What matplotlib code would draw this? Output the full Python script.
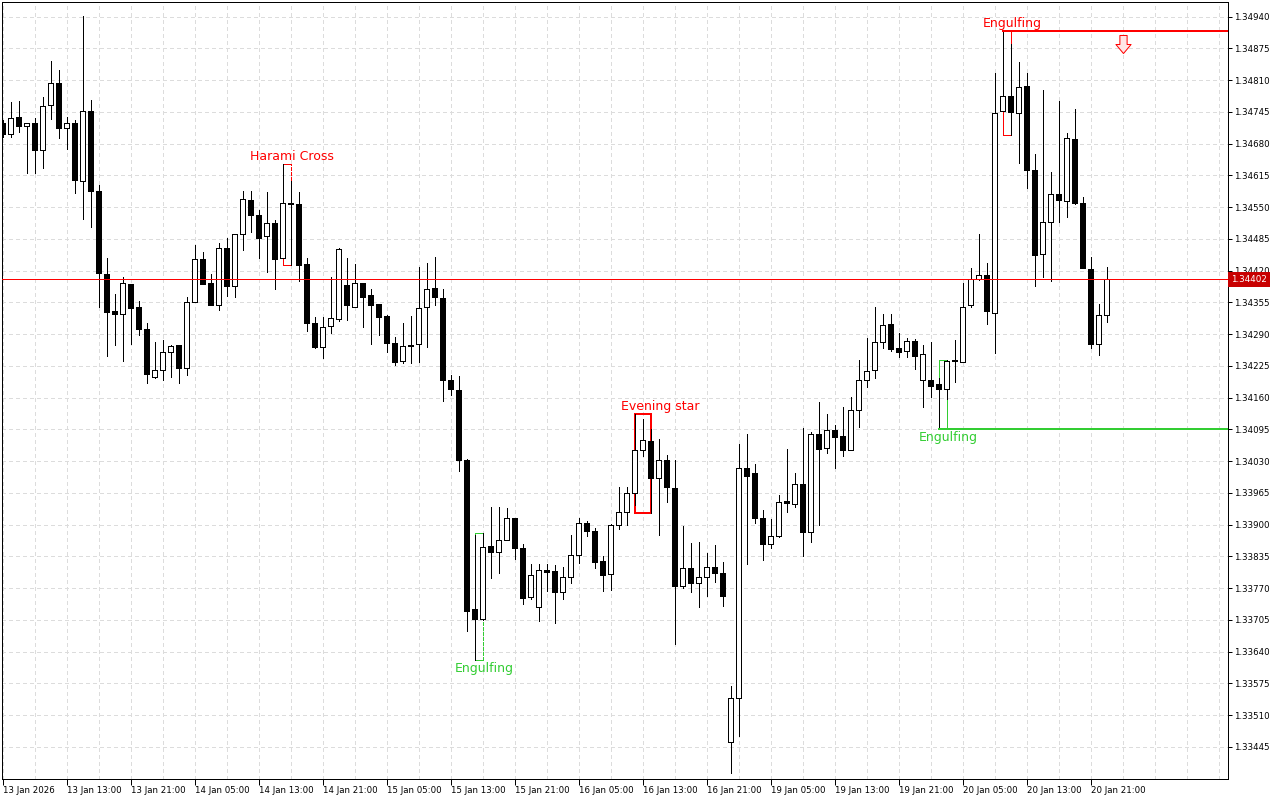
import matplotlib
matplotlib.use('Agg')
import matplotlib.pyplot as plt
from matplotlib.path import Path
from matplotlib.ticker import MultipleLocator

# GBPUSD-like H1 data (price)
opens = [1.34722, 1.34699, 1.34734, 1.34717, 1.34722, 1.34666, 1.34760, 1.34805, 1.34711, 1.34722,
         1.34604, 1.34746, 1.34582, 1.34414, 1.34337, 1.34332, 1.34392, 1.34345, 1.34300, 1.34203,
         1.34216, 1.34253, 1.34267, 1.34221, 1.34355, 1.34444, 1.34394, 1.34350, 1.34466, 1.34389,
         1.34494, 1.34564, 1.34534, 1.34490, 1.34517, 1.34445, 1.34558, 1.34556, 1.34433, 1.34312,
         1.34264, 1.34306, 1.34321, 1.34390, 1.34345, 1.34394, 1.34370, 1.34351, 1.34327, 1.34272,
         1.34234, 1.34267, 1.34269, 1.34345, 1.34384, 1.34364, 1.34197, 1.34175, 1.34032, 1.33727,
         1.33706, 1.33856, 1.33844, 1.33869, 1.33913, 1.33853, 1.33752, 1.33731, 1.33806, 1.33804,
         1.33762, 1.33792, 1.33837, 1.33904, 1.33886, 1.33825, 1.33798, 1.33900, 1.33926, 1.33965,
         1.34052, 1.34071, 1.33996, 1.34032, 1.33975, 1.33774, 1.33812, 1.33781, 1.33792, 1.33813,
         1.33800, 1.33454, 1.33544, 1.34015, 1.34005, 1.33913, 1.33861, 1.33877, 1.33948, 1.33943,
         1.33983, 1.33885, 1.34085, 1.34056, 1.34093, 1.34081, 1.34053, 1.34134, 1.34195, 1.34216,
         1.34273, 1.34310, 1.34261, 1.34255, 1.34275, 1.34195, 1.34197, 1.34187, 1.34178, 1.34234,
         1.34233, 1.34349, 1.34402, 1.34410, 1.34334, 1.34747, 1.34778, 1.34742, 1.34797, 1.34627,
         1.34454, 1.34519, 1.34576, 1.34563, 1.34689, 1.34558, 1.34423, 1.34270, 1.34330]
highs = [1.34728, 1.34765, 1.34767, 1.34723, 1.34732, 1.34775, 1.34849, 1.34830, 1.34734, 1.34728,
         1.34941, 1.34769, 1.34595, 1.34445, 1.34373, 1.34406, 1.34393, 1.34357, 1.34312, 1.34274,
         1.34277, 1.34267, 1.34267, 1.34365, 1.34472, 1.34458, 1.34413, 1.34476, 1.34487, 1.34494,
         1.34583, 1.34583, 1.34544, 1.34581, 1.34523, 1.34638, 1.34603, 1.34581, 1.34445, 1.34325,
         1.34325, 1.34407, 1.34467, 1.34445, 1.34433, 1.34395, 1.34382, 1.34351, 1.34330, 1.34284,
         1.34313, 1.34327, 1.34427, 1.34435, 1.34447, 1.34382, 1.34206, 1.34204, 1.34035, 1.33878,
         1.33882, 1.33936, 1.33936, 1.33933, 1.33914, 1.33861, 1.33820, 1.33820, 1.33820, 1.33817,
         1.33813, 1.33878, 1.33913, 1.33908, 1.33893, 1.33835, 1.33902, 1.33977, 1.33976, 1.34126,
         1.34117, 1.34095, 1.34076, 1.34042, 1.34033, 1.33897, 1.33862, 1.33865, 1.33841, 1.33858,
         1.33823, 1.33569, 1.34065, 1.34085, 1.34025, 1.33929, 1.33911, 1.33960, 1.34054, 1.34005,
         1.34097, 1.34090, 1.34151, 1.34126, 1.34103, 1.34140, 1.34162, 1.34237, 1.34283, 1.34345,
         1.34332, 1.34332, 1.34293, 1.34283, 1.34279, 1.34267, 1.34273, 1.34200, 1.34236, 1.34278,
         1.34394, 1.34425, 1.34494, 1.34435, 1.34824, 1.34911, 1.34885, 1.34847, 1.34824, 1.34658,
         1.34790, 1.34621, 1.34767, 1.34701, 1.34751, 1.34571, 1.34447, 1.34351, 1.34428]
lows = [1.34694, 1.34693, 1.34703, 1.34620, 1.34620, 1.34631, 1.34730, 1.34692, 1.34670, 1.34579,
        1.34526, 1.34510, 1.34346, 1.34246, 1.34268, 1.34235, 1.34270, 1.34289, 1.34190, 1.34201,
        1.34196, 1.34203, 1.34190, 1.34207, 1.34355, 1.34392, 1.34350, 1.34340, 1.34368, 1.34366,
        1.34463, 1.34499, 1.34446, 1.34418, 1.34382, 1.34445, 1.34431, 1.34399, 1.34297, 1.34262,
        1.34242, 1.34293, 1.34317, 1.34319, 1.34345, 1.34305, 1.34269, 1.34288, 1.34254, 1.34227,
        1.34230, 1.34230, 1.34232, 1.34263, 1.34349, 1.34153, 1.34166, 1.34010, 1.33682, 1.33622,
        1.33704, 1.33791, 1.33801, 1.33869, 1.33829, 1.33738, 1.33747, 1.33703, 1.33764, 1.33699,
        1.33747, 1.33781, 1.33822, 1.33876, 1.33812, 1.33764, 1.33766, 1.33890, 1.33900, 1.33940,
        1.34040, 1.33923, 1.33878, 1.33946, 1.33655, 1.33770, 1.33761, 1.33731, 1.33754, 1.33783,
        1.33734, 1.33392, 1.33467, 1.33819, 1.33904, 1.33827, 1.33853, 1.33875, 1.33926, 1.33936,
        1.33835, 1.33865, 1.33900, 1.34047, 1.34016, 1.34041, 1.34052, 1.34100, 1.34182, 1.34201,
        1.34261, 1.34255, 1.34244, 1.34244, 1.34219, 1.34140, 1.34162, 1.34096, 1.34157, 1.34192,
        1.34232, 1.34345, 1.34401, 1.34310, 1.34252, 1.34746, 1.34698, 1.34641, 1.34590, 1.34389,
        1.34406, 1.34399, 1.34520, 1.34530, 1.34557, 1.34425, 1.34262, 1.34248, 1.34315]
closes = [1.34699, 1.34732, 1.34717, 1.34722, 1.34667, 1.34758, 1.34805, 1.34711, 1.34722, 1.34606,
          1.34746, 1.34583, 1.34416, 1.34336, 1.34332, 1.34394, 1.34344, 1.34301, 1.34209, 1.34216,
          1.34253, 1.34265, 1.34221, 1.34355, 1.34443, 1.34393, 1.34350, 1.34466, 1.34389, 1.34494,
          1.34566, 1.34533, 1.34487, 1.34517, 1.34443, 1.34558, 1.34556, 1.34432, 1.34313, 1.34264,
          1.34305, 1.34322, 1.34464, 1.34350, 1.34394, 1.34366, 1.34350, 1.34325, 1.34271, 1.34233,
          1.34265, 1.34265, 1.34343, 1.34382, 1.34365, 1.34197, 1.34177, 1.34033, 1.33723, 1.33706,
          1.33854, 1.33844, 1.33869, 1.33913, 1.33852, 1.33750, 1.33796, 1.33806, 1.33803, 1.33762,
          1.33792, 1.33837, 1.33904, 1.33887, 1.33824, 1.33797, 1.33900, 1.33926, 1.33965, 1.34052,
          1.34073, 1.33996, 1.34032, 1.33976, 1.33774, 1.33812, 1.33781, 1.33793, 1.33813, 1.33800,
          1.33754, 1.33544, 1.34015, 1.34000, 1.33913, 1.33861, 1.33876, 1.33946, 1.33945, 1.33983,
          1.33885, 1.34085, 1.34054, 1.34093, 1.34080, 1.34053, 1.34134, 1.34197, 1.34214, 1.34273,
          1.34308, 1.34259, 1.34254, 1.34275, 1.34246, 1.34250, 1.34184, 1.34178, 1.34235, 1.34236,
          1.34345, 1.34402, 1.34410, 1.34338, 1.34742, 1.34778, 1.34744, 1.34795, 1.34627, 1.34452,
          1.34519, 1.34576, 1.34565, 1.34691, 1.34559, 1.34426, 1.34270, 1.34330, 1.34402]

# bar index of each time label
time_ticks = [0, 8, 16, 24, 32, 40, 48, 56, 64, 72, 80, 88, 96, 104, 112, 120, 128, 136]
time_labels = ['13 Jan 2026', '13 Jan 13:00', '13 Jan 21:00', '14 Jan 05:00', '14 Jan 13:00',
               '14 Jan 21:00', '15 Jan 05:00', '15 Jan 13:00', '15 Jan 21:00', '16 Jan 05:00',
               '16 Jan 13:00', '16 Jan 21:00', '19 Jan 05:00', '19 Jan 13:00', '19 Jan 21:00',
               '20 Jan 05:00', '20 Jan 13:00', '20 Jan 21:00']
price_ticks = [1.34940, 1.34875, 1.34810, 1.34745, 1.34680, 1.34615, 1.34550, 1.34485, 1.34420,
               1.34355, 1.34290, 1.34225, 1.34160, 1.34095, 1.34030, 1.33965, 1.33900, 1.33835,
               1.33770, 1.33705, 1.33640, 1.33575, 1.33510, 1.33445]

# candle patterns: name, first bar, last bar, bullish?
pattern_names = ['Harami Cross', 'Engulfing', 'Evening star', 'Engulfing', 'Engulfing']
pattern_first = [35, 59, 79, 117, 125]
pattern_last = [36, 60, 81, 118, 126]
pattern_bull = [False, True, False, True, False]

signal_bar = 140
signal_price = 1.34884

RED = '#ff0000'
GREEN = '#32cd32'
PX = 0.72  # one pixel in points

fig = plt.figure(figsize=(12.8, 8), dpi=100)
ax = fig.add_axes([2 / 1280, 1 - 779 / 800, 1226 / 1280, 777 / 800])
ax.set_xlim(-0.08, 153.17)
ax.set_ylim(1.33379, 1.34970)

# grid
ax.set_axisbelow(True)
ax.xaxis.set_minor_locator(MultipleLocator(4))
ax.grid(which='both', axis='x', color='#dcdcdc', ls=(0, (4, 4)), lw=PX, antialiased=False)
ax.grid(which='major', axis='y', color='#dcdcdc', ls=(0, (4, 4)), lw=PX, antialiased=False)

# candles
n = len(opens)
xs = list(range(n))
ax.vlines(xs, lows, highs, color='black', lw=PX, zorder=2, antialiased=False)
bottoms = [min(o, c) for o, c in zip(opens, closes)]
heights = [max(abs(c - o), 0.000012) for o, c in zip(opens, closes)]
fills = ['white' if c >= o else 'black' for o, c in zip(opens, closes)]
ax.bar(xs, heights, bottom=bottoms, width=0.55, color=fills, edgecolor='black', lw=PX,
       zorder=3, antialiased=False)

# pattern boxes and labels
label_dx = [0.2, 0.2, 1.2, 0.2, 0.2]
for name, k1, k2, bull, dx in zip(pattern_names, pattern_first, pattern_last, pattern_bull, label_dx):
    col = GREEN if bull else RED
    top = max(highs[k1:k2 + 1])
    bot = min(lows[k1:k2 + 1])
    lw = 2 * PX if name == 'Evening star' else PX
    right_ls = (0, (3, 2)) if k1 in (35, 59) else '-'
    kw = dict(color=col, lw=lw, zorder=1.5, antialiased=False, solid_capstyle='projecting')
    ax.plot([k1, k2], [top, top], **kw)
    ax.plot([k1, k2], [bot, bot], **kw)
    ax.plot([k1, k1], [bot, top], **kw)
    ax.plot([k2, k2], [bot, top], ls=right_ls, **kw)
    if bull:
        ax.annotate(name, (k2 + dx, bot), xytext=(0, -6), textcoords='offset points',
                    ha='center', va='center', color=col, fontsize=9)
    else:
        ax.annotate(name, (k2 + dx, top), xytext=(0, 5.2), textcoords='offset points',
                    ha='center', va='center', color=col, fontsize=9)

# levels of the last two patterns
ax.plot([117, 153.17], [lows[117], lows[117]], color=GREEN, lw=2 * PX, zorder=4, antialiased=False)
ax.plot([125, 153.17], [highs[125], highs[125]], color=RED, lw=2 * PX, zorder=4, antialiased=False)

# sell arrow
arrow = Path([(-0.2, 0.5), (0.2, 0.5), (0.2, 0.0), (0.42, 0.0), (0.0, -0.5), (-0.42, 0.0),
              (-0.2, 0.0), (-0.2, 0.5)],
             [Path.MOVETO] + [Path.LINETO] * 6 + [Path.CLOSEPOLY])
ax.plot([signal_bar], [signal_price], marker=arrow, markersize=13, mfc='#ffe6e6', mec=RED,
        mew=PX, zorder=5)

# current price line and label
last = closes[-1]
ax.axhline(last, color=RED, lw=PX, zorder=4, antialiased=False)
ax.text(1.0 + 3 / 1226, last, f'{last:.5f}', transform=ax.get_yaxis_transform(), ha='left',
        va='center', color='white', fontsize=6.3, zorder=6,
        bbox=dict(boxstyle='square,pad=0.3', fc='#c80000', ec='none'))

# axes
ax.yaxis.tick_right()
ax.set_yticks(price_ticks)
ax.set_yticklabels([f'{p:.5f}' for p in price_ticks])
ax.set_xticks(time_ticks)
ax.set_xticklabels(time_labels)
for lbl in ax.get_xticklabels():
    lbl.set_horizontalalignment('left')
ax.tick_params(axis='y', which='major', length=3, width=PX, labelsize=6.2, pad=1.5, direction='out')
ax.tick_params(axis='x', which='major', length=4, width=PX, labelsize=6.2, pad=1, direction='out')
ax.tick_params(axis='x', which='minor', length=0)
for sp in ax.spines.values():
    sp.set_linewidth(PX)
    sp.set_color('black')

fig.savefig('out.png', dpi=100)
